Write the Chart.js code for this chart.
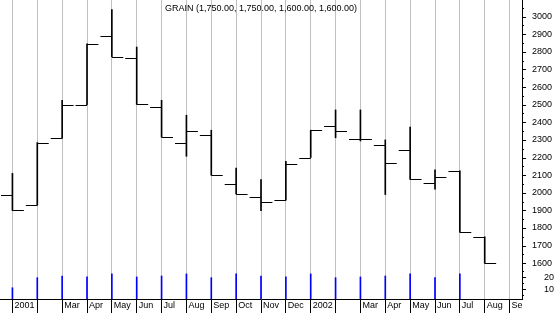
<!DOCTYPE html>
<html>
<head>
<meta charset="utf-8">
<script src="https://cdn.jsdelivr.net/npm/chart.js@4.4.1/dist/chart.umd.min.js"></script>
<style>
  body { margin: 0; background: #fff; }
  #wrap { width: 557px; height: 313px; }
</style>
</head>
<body>
<div id="wrap"><canvas id="grainChart" width="557" height="313"></canvas></div>
<script>
// Monthly GRAIN bars, Jan 2001 - Aug 2002 (last label is the next month, no bar)
const months = ['2001', '', 'Mar', 'Apr', 'May', 'Jun', 'Jul', 'Aug', 'Sep', 'Oct', 'Nov', 'Dec',
                '2002', '', 'Mar', 'Apr', 'May', 'Jun', 'Jul', 'Aug', 'Se'];
const openPrices  = [1990, 1930, 2310, 2500, 2890, 2765, 2485, 2280, 2330, 2050, 1975, 1958, 2200, 2380, 2307, 2270, 2245, 2054, 2124, 1750];
const highPrices  = [2110, 2285, 2525, 2845, 3040, 2827, 2525, 2440, 2355, 2140, 2075, 2178, 2355, 2470, 2470, 2300, 2373, 2130, 2124, 1750];
const lowPrices   = [1900, 1930, 2310, 2500, 2772, 2502, 2316, 2207, 2100, 1993, 1898, 1958, 2200, 2312, 2294, 1990, 2076, 2020, 1776, 1600];
const closePrices = [1905, 2285, 2500, 2845, 2772, 2502, 2316, 2350, 2100, 1993, 1950, 2162, 2355, 2350, 2307, 2170, 2076, 2088, 1776, 1600];
const volumes     = [11.3, 19.7, 21.1, 20.3, 22.8, 20.3, 21.1, 22.8, 19.7, 22.8, 21.1, 20.3, 22.8, 19.7, 20.3, 21.1, 22.8, 19.7, 22.8, null];
const priceTicks  = [1600, 1700, 1800, 1900, 2000, 2100, 2200, 2300, 2400, 2500, 2600, 2700, 2800, 2900, 3000];
const volumeTicks = [10, 20];

const axisFont = { family: 'Liberation Sans, Arial, sans-serif', size: 9 };

function fmt(v) {
    return v.toLocaleString('en-US', { minimumFractionDigits: 2, maximumFractionDigits: 2 });
}

// keep the plot flush with the canvas edges: drop the label overhang padding
function fitRight(s) {
    s.width = 35;
    s.paddingTop = 0;
    s.paddingBottom = 0;
}

// open / close ticks, short minor ticks on the right axes, and the title line
const ohlcPlugin = {
    id: 'ohlc',
    afterDatasetsDraw(chart) {
        const ctx = chart.ctx;
        const x = chart.scales.x;
        const y = chart.scales.y;
        const tick = (x.getPixelForValue(1) - x.getPixelForValue(0)) * 0.46;
        ctx.save();
        ctx.strokeStyle = '#000';
        ctx.lineWidth = 1;
        openPrices.forEach((o, i) => {
            const px = x.getPixelForValue(i);
            const yo = Math.round(y.getPixelForValue(o)) + 0.5;
            const yc = Math.round(y.getPixelForValue(closePrices[i])) + 0.5;
            ctx.beginPath();
            ctx.moveTo(px - tick, yo);
            ctx.lineTo(px, yo);
            ctx.moveTo(px, yc);
            ctx.lineTo(px + tick, yc);
            ctx.stroke();
        });
        ctx.restore();
    },
    afterDraw(chart) {
        const ctx = chart.ctx;
        ctx.save();
        ctx.strokeStyle = '#000';
        ctx.lineWidth = 1;
        ['y', 'yVol'].forEach(id => {
            const s = chart.scales[id];
            const major = id === 'y' ? priceTicks : volumeTicks;
            s.ticks.forEach(t => {
                const py = Math.round(s.getPixelForValue(t.value)) + 0.5;
                const len = major.includes(t.value) ? 4 : 2;
                ctx.beginPath();
                ctx.moveTo(s.left, py);
                ctx.lineTo(s.left + len, py);
                ctx.stroke();
            });
        });
        // title
        const last = openPrices.length - 1;
        const title = 'GRAIN (' + fmt(openPrices[last]) + ', ' + fmt(highPrices[last]) + ', ' +
                      fmt(lowPrices[last]) + ', ' + fmt(closePrices[last]) + ')';
        const area = chart.chartArea;
        ctx.fillStyle = '#000';
        ctx.font = '9px ' + axisFont.family;
        ctx.textAlign = 'center';
        ctx.textBaseline = 'middle';
        ctx.fillText(title, (area.left + area.right) / 2, 9);
        ctx.restore();
    }
};

new Chart(document.getElementById('grainChart'), {
    type: 'bar',
    data: {
        labels: months,
        datasets: [{
            label: 'High-Low',
            data: highPrices.map((h, i) => [lowPrices[i], h]),
            yAxisID: 'y',
            backgroundColor: '#000',
            barThickness: 1,
            grouped: false
        }, {
            label: 'Volume',
            data: volumes,
            yAxisID: 'yVol',
            backgroundColor: '#0000ff',
            barThickness: 1,
            grouped: false
        }]
    },
    options: {
        responsive: false,
        animation: false,
        layout: { padding: 0 },
        plugins: {
            legend: { display: false },
            tooltip: { enabled: false }
        },
        scales: {
            x: {
                offset: true,
                grid: { offset: false, color: '#c0c0c0', tickColor: '#000', tickLength: 14 },
                border: { color: '#000' },
                ticks: {
                    autoSkip: false,
                    maxRotation: 0,
                    align: 'start',
                    labelOffset: 2,
                    padding: -13,
                    color: '#000',
                    font: axisFont
                },
                afterFit: s => {
                    s.height = 14;
                    s.paddingLeft = 0;
                    s.paddingRight = 0;
                }
            },
            y: {
                position: 'right',
                stack: 'right',
                stackWeight: 268,
                min: 1573,
                max: 3094,
                border: { color: '#000' },
                grid: { drawOnChartArea: false, drawTicks: false },
                ticks: {
                    stepSize: 50,
                    autoSkip: false,
                    includeBounds: false,
                    padding: 10,
                    color: '#000',
                    font: axisFont,
                    callback: v => priceTicks.includes(v) ? String(v) : ''
                },
                afterFit: fitRight
            },
            yVol: {
                position: 'right',
                stack: 'right',
                stackWeight: 31,
                min: 1.92,
                max: 27.75,
                border: { color: '#000' },
                grid: { drawOnChartArea: false, drawTicks: false },
                ticks: {
                    stepSize: 5,
                    autoSkip: false,
                    includeBounds: false,
                    padding: 22,
                    color: '#000',
                    font: axisFont,
                    callback: v => volumeTicks.includes(v) ? String(v) : ''
                },
                afterFit: fitRight
            }
        }
    },
    plugins: [ohlcPlugin]
});
</script>
</body>
</html>
